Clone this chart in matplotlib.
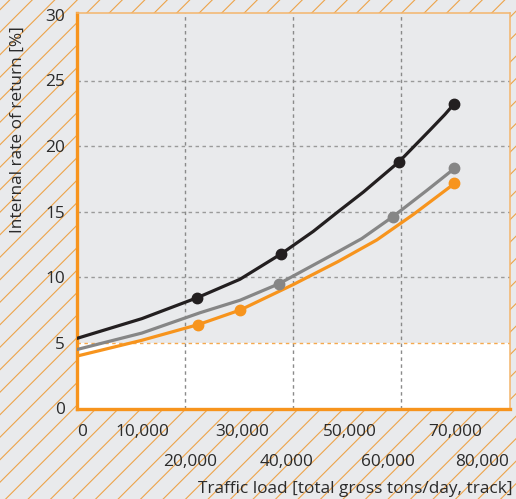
import matplotlib.pyplot as plt
from matplotlib.lines import Line2D
from matplotlib.transforms import ScaledTranslation

plt.rcParams['font.family'] = ['Open Sans', 'DejaVu Sans']

# traffic load [gross tons/day] and IRR [%]
load_black = [0, 12000, 22300, 30200, 37900, 43800, 48400, 53100, 59700, 65400, 68200, 69900]
irr_black = [5.35, 6.85, 8.45, 9.85, 11.8, 13.5, 15.0, 16.5, 18.8, 21.2, 22.4, 23.2]
load_gray = [0, 12000, 22800, 30200, 37400, 48400, 52800, 58500, 64800, 70000]
irr_gray = [4.5, 5.75, 7.3, 8.25, 9.5, 11.95, 12.95, 14.6, 16.6, 18.3]
load_orange = [0, 12000, 22500, 30200, 40100, 48400, 55600, 62400, 70000]
irr_orange = [4.0, 5.2, 6.4, 7.5, 9.45, 11.2, 12.85, 14.8, 17.15]

# marked points
mark_black_x = [22300, 37900, 59700, 69900]
mark_black_y = [8.45, 11.8, 18.8, 23.2]
mark_gray_x = [37400, 58500, 70000]
mark_gray_y = [9.5, 14.6, 18.3]
mark_orange_x = [22500, 30200, 70000]
mark_orange_y = [6.4, 7.5, 17.15]

xticks_top = [0, 10000, 30000, 50000, 70000]
xticks_bottom = [20000, 40000, 60000, 80000]
yticks = [0, 5, 10, 15, 20, 25, 30]
threshold = 5

BG = '#e9eaec'
ORANGE = '#f7941d'
BLACK = '#231f20'
GRAY = '#868686'
TEXT = '#2b2b2b'
FS = 12.4

W, H = 516, 499
fig = plt.figure(figsize=(W / 100, H / 100), dpi=100, facecolor=BG)

# hatched background, 45 degree lines in pixel space
bg = fig.add_axes([0, 0, 1, 1])
bg.set_xlim(0, W)
bg.set_ylim(0, H)
bg.axis('off')
c = 16.8 - 22.5 * 25
while c < H:
    bg.add_line(Line2D([0, W], [c, c + W], color='#eda44a', lw=0.8))
    c += 22.5

ax = fig.add_axes([77.2 / W, (H - 408.5) / H, 432.8 / W, 395.5 / H])
ax.set_facecolor(BG)
ax.set_xlim(0, 80300)
ax.set_ylim(0, 395.5 / 13.12)

ax.axhspan(0, threshold, color='white', zorder=0, lw=0)
for y in [10, 15, 20, 25]:
    ax.axhline(y, color='#9a9a9a', lw=1, ls=(0, (2.5, 2.5)), zorder=1)
for x in [20000, 40000, 60000]:
    ax.axvline(x, color='#8a8a8a', lw=1, ls=(0, (2.5, 2.5)), zorder=1)
ax.axhline(threshold, color='#f5a94e', lw=1, ls=(0, (2.5, 2.5)), zorder=1)

ax.plot(load_black, irr_black, color=BLACK, lw=2.3, zorder=4, solid_capstyle='round')
ax.plot(load_gray, irr_gray, color=GRAY, lw=2.3, zorder=3, solid_capstyle='round')
ax.plot(load_orange, irr_orange, color=ORANGE, lw=2.3, zorder=3, solid_capstyle='round')
ax.plot(mark_black_x, mark_black_y, 'o', color=BLACK, ms=7.5, zorder=5)
ax.plot(mark_gray_x, mark_gray_y, 'o', color=GRAY, ms=7.5, zorder=5)
ax.plot(mark_orange_x, mark_orange_y, 'o', color=ORANGE, ms=7.5, zorder=5)

for side in ['left', 'bottom']:
    ax.spines[side].set_color(ORANGE)
    ax.spines[side].set_linewidth(2.4)
for side in ['top', 'right']:
    ax.spines[side].set_color('#f4b56b')
    ax.spines[side].set_linewidth(1.1)

ax.set_yticks(yticks)
ax.tick_params(axis='y', length=0, pad=9, labelsize=FS, labelcolor=TEXT)
ax.set_xticks(xticks_top)
ax.set_xticklabels([f'{v:,}' for v in xticks_top])
ax.set_xticks(xticks_bottom, minor=True)
ax.set_xticklabels([f'{v:,}' for v in xticks_bottom], minor=True)
ax.tick_params(axis='x', which='major', length=0, pad=11, labelsize=FS, labelcolor=TEXT)
ax.tick_params(axis='x', which='minor', length=0, pad=33, labelsize=FS, labelcolor=TEXT)

# labels sit a little off their ticks in the original
shifts_top = [5, 11, 3, 3, 1]
shifts_bottom = [5, -6, -13, -26]
for lab, dx in zip(ax.get_xticklabels(), shifts_top):
    lab.set_transform(lab.get_transform() + ScaledTranslation(dx / 100, 0, fig.dpi_scale_trans))
for lab, dx in zip(ax.get_xticklabels(minor=True), shifts_bottom):
    lab.set_transform(lab.get_transform() + ScaledTranslation(dx / 100, 0, fig.dpi_scale_trans))

ax.set_xlabel('Traffic load [total gross tons/day, track]', fontsize=FS, color=TEXT,
              ha='right', va='center')
ax.xaxis.set_label_coords(1.005, -0.2035)
ax.set_ylabel('Internal rate of return [%]', fontsize=FS, color=TEXT, va='center')
ax.yaxis.set_label_coords(-0.137, 0.705)

fig.savefig('out.png', dpi=100, facecolor=BG)
